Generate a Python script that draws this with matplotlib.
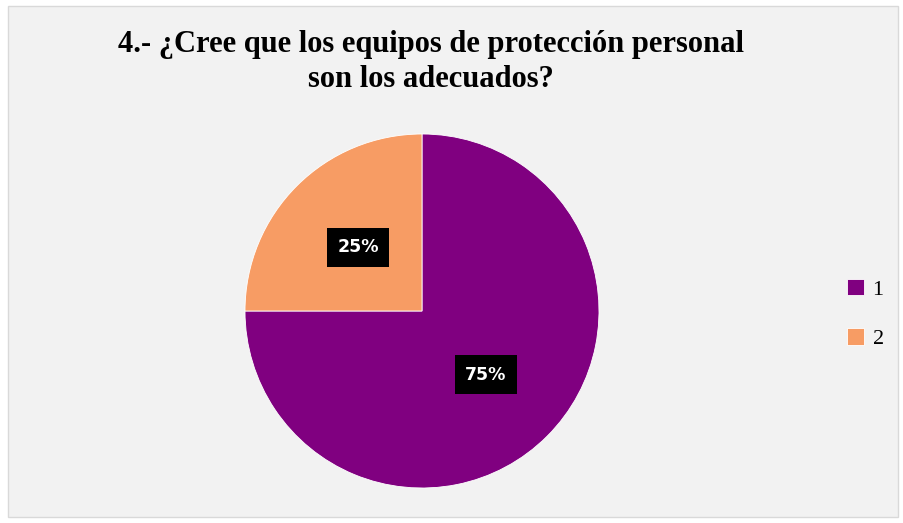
import matplotlib.pyplot as plt
from matplotlib.patches import Rectangle

labels = ['1', '2']
values = [75, 25]
colors = ['#800080', '#F79C64']
title = '4.- ¿Cree que los equipos de protección personal\nson los adecuados?'

fig = plt.figure(figsize=(9.04, 5.23), dpi=100)
fig.patch.set_facecolor('white')

# chart area panel
fig.patches.append(Rectangle((8 / 904, 6 / 523), 890 / 904, 511 / 523,
                             transform=fig.transFigure, facecolor='#f2f2f2',
                             edgecolor='#d9d9d9', linewidth=1.0, zorder=-10))

# pie centred at (422, 311) px, radius 177 px
cx, cy, r = 422, 523 - 311, 177
ax = fig.add_axes([(cx - r) / 904, (cy - r) / 523, 2 * r / 904, 2 * r / 523])
ax.set_facecolor('none')
wedges, texts, autotexts = ax.pie(values, colors=colors, startangle=90, counterclock=False,
                                  autopct='%1.0f%%', pctdistance=0.51, radius=1.0,
                                  wedgeprops=dict(edgecolor='white', linewidth=0.6))
for t in autotexts:
    t.set_color('white')
    t.set_fontweight('bold')
    t.set_fontsize(12.5)
    t.set_family('DejaVu Sans')
    t.set_bbox(dict(facecolor='black', edgecolor='none', boxstyle='square,pad=0.6'))
ax.set_xlim(-1, 1)
ax.set_ylim(-1, 1)
ax.set_aspect('equal')

fig.text(431 / 904, 1 - 62 / 523, title, ha='center', va='center', fontsize=22,
         fontweight='bold', family='Liberation Serif', linespacing=1.27)

leg = fig.legend(wedges, labels, loc='center left', bbox_to_anchor=(847 / 904, 1 - 314 / 523),
                 frameon=False, borderpad=0, borderaxespad=0,
                 handlelength=0.75, handleheight=0.75, handletextpad=0.4,
                 labelspacing=1.3, prop={'family': 'Liberation Serif', 'size': 16})

fig.savefig('out.png', dpi=100)
